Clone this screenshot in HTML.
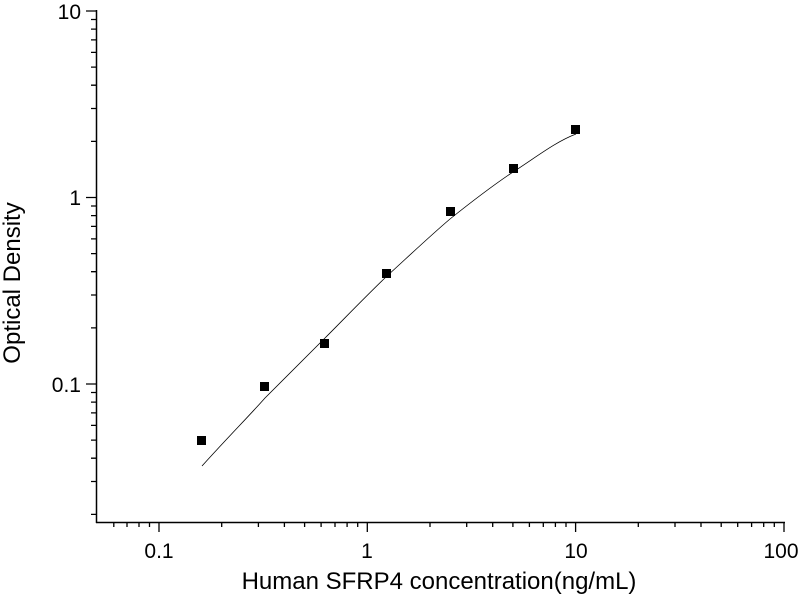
<!DOCTYPE html>
<html><head><style>body{margin:0;background:#fff}</style></head><body>
<svg width="800" height="600" xmlns="http://www.w3.org/2000/svg" font-family="Liberation Sans, Arial, sans-serif">
<rect width="800" height="600" fill="#fff"/>
<g stroke="#000" stroke-width="1.5" fill="none">
<line x1="96.5" y1="10" x2="96.5" y2="523"/>
<line x1="96" y1="522.5" x2="785" y2="522.5"/>
</g>
<g stroke="#000" stroke-width="1.3">
<path d="M86,11H96M86,197.5H96M86,384H96
M91,19.5H96M91,29.1H96M91,39.9H96M91,52.4H96M91,67.1H96M91,85.2H96M91,108.5H96M91,141.4H96
M91,206H96M91,215.6H96M91,226.4H96M91,238.9H96M91,253.6H96M91,271.7H96M91,295H96M91,327.9H96
M91,392.5H96M91,402.1H96M91,412.9H96M91,425.4H96M91,440.1H96M91,458.2H96M91,481.5H96M91,514.4H96"/>
<path d="M159,522V532M367.3,522V532M575.6,522V532M784,522V532
M113.8,522V527M127,522V527M139,522V527M149.5,522V527
M221.7,522V527M258.4,522V527M284.4,522V527M304.6,522V527M321.1,522V527M335,522V527M347.1,522V527M357.7,522V527
M430,522V527M466.7,522V527M492.7,522V527M512.9,522V527M529.4,522V527M543.3,522V527M555.4,522V527M566,522V527
M638.3,522V527M675,522V527M701,522V527M721.2,522V527M737.7,522V527M751.6,522V527M763.7,522V527M774.3,522V527"/>
</g>
<g font-size="21" fill="#000">
<text x="81" y="19" text-anchor="end">10</text>
<text x="81" y="205" text-anchor="end">1</text>
<text x="81" y="392" text-anchor="end">0.1</text>
<text x="159" y="558" text-anchor="middle">0.1</text>
<text x="367" y="558" text-anchor="middle">1</text>
<text x="576" y="558" text-anchor="middle">10</text>
<text x="781" y="558" text-anchor="middle">100</text>
</g>
<text x="439" y="589" font-size="24" text-anchor="middle">Human SFRP4 concentration(ng/mL)</text>
<text transform="translate(20,283) rotate(-90)" font-size="24" text-anchor="middle">Optical Density</text>
<path d="M202,466 C230,435 250,415 265,398 C285,378 305,358 325,338 C345,318 365,297 387,276 C410,255 430,236 450,219 C470,203 492,186 513,172 C535,158 555,142 576,134" stroke="#000" stroke-width="0.8" fill="none"/>
<g fill="#000">
<rect x="197" y="436" width="9" height="9"/>
<rect x="260" y="382" width="9" height="9"/>
<rect x="320" y="339" width="9" height="9"/>
<rect x="382" y="269" width="9" height="9"/>
<rect x="446" y="207" width="9" height="9"/>
<rect x="509" y="164" width="9" height="9"/>
<rect x="571" y="125" width="9" height="9"/>
</g>
</svg>
</body></html>
